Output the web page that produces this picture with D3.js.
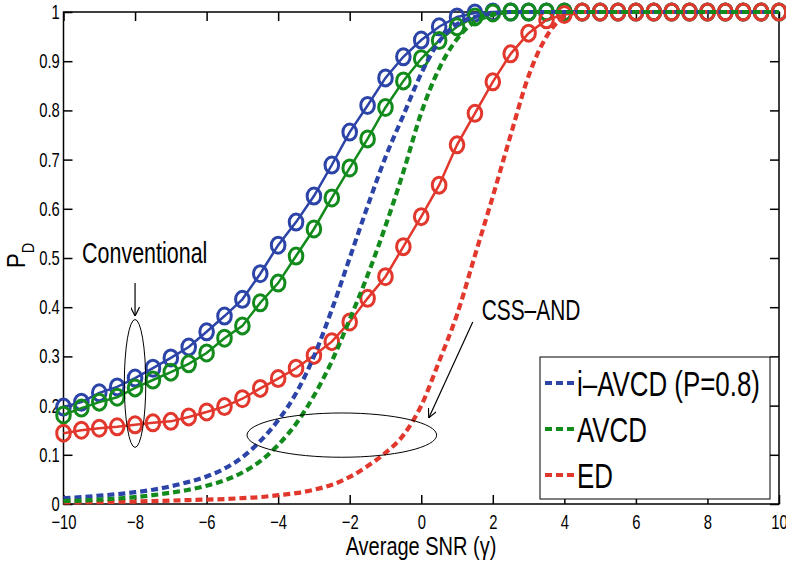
<!DOCTYPE html>
<html lang="en">
<head>
<meta charset="UTF-8">
<title>PD vs SNR</title>
<script src="https://cdn.jsdelivr.net/npm/d3@7/dist/d3.min.js"></script>
<style>
	body { margin: 0; background: #fff; }
	svg text { font-family: "Liberation Sans", Arial, sans-serif; fill: #000; }
	.axis path, .axis line { stroke: #000; stroke-width: 1.5; }
</style>
</head>
<body>
<script>
// SNR points (dB), one every 0.5 dB
var snr = [-10, -9.5, -9, -8.5, -8, -7.5, -7, -6.5, -6, -5.5, -5, -4.5, -4, -3.5, -3, -2.5, -2, -1.5, -1, -0.5,
	0, 0.5, 1, 1.5, 2, 2.5, 3, 3.5, 4, 4.5, 5, 5.5, 6, 6.5, 7, 7.5, 8, 8.5, 9, 9.5, 10];

// conventional (solid + circles)
var iavcdConv = [0.197, 0.207, 0.226, 0.238, 0.256, 0.276, 0.297, 0.319, 0.350, 0.382, 0.416, 0.468, 0.526, 0.573, 0.626, 0.689, 0.756, 0.810, 0.866, 0.909,
	0.943, 0.970, 0.990, 0.998, 1, 1, 1, 1, 1, 1, 1, 1, 1, 1, 1, 1, 1, 1, 1, 1, 1];
var avcdConv = [0.181, 0.195, 0.207, 0.217, 0.236, 0.252, 0.268, 0.285, 0.307, 0.337, 0.362, 0.409, 0.449, 0.504, 0.559, 0.622, 0.683, 0.742, 0.806, 0.860,
	0.905, 0.942, 0.970, 0.990, 0.998, 1, 1, 1, 1, 1, 1, 1, 1, 1, 1, 1, 1, 1, 1, 1, 1];
var edConv = [0.144, 0.150, 0.154, 0.157, 0.161, 0.165, 0.168, 0.177, 0.187, 0.198, 0.214, 0.235, 0.255, 0.276, 0.302, 0.330, 0.370, 0.418, 0.462, 0.523,
	0.584, 0.648, 0.730, 0.794, 0.858, 0.915, 0.957, 0.984, 0.995, 1, 1, 1, 1, 1, 1, 1, 1, 1, 1, 1, 1];

// CSS-AND (dashed)
var iavcdAnd = [0.012, 0.014, 0.017, 0.020, 0.024, 0.029, 0.036, 0.045, 0.056, 0.072, 0.095, 0.128, 0.170, 0.225, 0.300, 0.395, 0.500, 0.605, 0.705, 0.790,
	0.875, 0.940, 0.975, 0.990, 0.997, 1, 1, 1, 1, 1, 1, 1, 1, 1, 1, 1, 1, 1, 1, 1, 1];
var avcdAnd = [0.006, 0.007, 0.009, 0.011, 0.014, 0.018, 0.023, 0.029, 0.037, 0.048, 0.064, 0.087, 0.120, 0.163, 0.220, 0.290, 0.375, 0.465, 0.565, 0.675,
	0.795, 0.885, 0.945, 0.980, 0.994, 1, 1, 1, 1, 1, 1, 1, 1, 1, 1, 1, 1, 1, 1, 1, 1];
var edAnd = [0.003, 0.0035, 0.004, 0.0045, 0.005, 0.006, 0.007, 0.008, 0.009, 0.010, 0.012, 0.014, 0.018, 0.022, 0.029, 0.039, 0.055, 0.077, 0.104, 0.140,
	0.200, 0.290, 0.385, 0.505, 0.625, 0.750, 0.870, 0.950, 0.990, 1, 1, 1, 1, 1, 1, 1, 1, 1, 1, 1, 1];

var legendLabels = ["i\u2013AVCD (P=0.8)", "AVCD", "ED"];
var xTicks = [-10, -8, -6, -4, -2, 0, 2, 4, 6, 8, 10];
var yTicks = [0, 0.1, 0.2, 0.3, 0.4, 0.5, 0.6, 0.7, 0.8, 0.9, 1];

var blue = "#2c44a8", green = "#138a1c", red = "#e2372c";

var width = 786, height = 564;
var svg = d3.select("body").append("svg")
	.attr("width", width)
	.attr("height", height);

var x = d3.scaleLinear().domain([-10, 10]).range([63.5, 779]);
var y = d3.scaleLinear().domain([0, 1]).range([504, 12]);

// matlab-ish condensed text: squeeze horizontally
function narrow(sel, px, py, sx) {
	return sel.attr("transform", "translate(" + px + "," + py + ") scale(" + sx + ",1)");
}

var fmtY = function(d) { return d === 0 ? "0" : d === 1 ? "1" : d3.format(".1f")(d); };
var fmtX = function(d) { return d < 0 ? "\u2212" + Math.abs(d) : d; };

// box + inward ticks on all four sides
var gx = svg.append("g").attr("class", "axis")
	.attr("transform", "translate(0," + y(0) + ")")
	.call(d3.axisBottom(x).tickValues(xTicks).tickSizeInner(-9).tickSizeOuter(0).tickPadding(11).tickFormat(fmtX));
gx.selectAll("text").style("font-size", "20px").attr("transform", "scale(0.74,1)");
svg.append("g").attr("class", "axis")
	.attr("transform", "translate(0," + y(1) + ")")
	.call(d3.axisTop(x).tickValues(xTicks).tickSizeInner(-9).tickSizeOuter(0).tickFormat(""));
var gy = svg.append("g").attr("class", "axis")
	.attr("transform", "translate(" + x(-10) + ",0)")
	.call(d3.axisLeft(y).tickValues(yTicks).tickSizeInner(-9).tickSizeOuter(0).tickPadding(5).tickFormat(fmtY));
gy.selectAll("text").style("font-size", "20px").attr("transform", "scale(0.74,1)");
svg.append("g").attr("class", "axis")
	.attr("transform", "translate(" + x(10) + ",0)")
	.call(d3.axisRight(y).tickValues(yTicks).tickSizeInner(-9).tickSizeOuter(0).tickFormat(""));
svg.selectAll(".axis .domain").remove();
svg.append("rect")
	.attr("x", x(-10)).attr("y", y(1))
	.attr("width", x(10) - x(-10)).attr("height", y(0) - y(1))
	.attr("fill", "none").attr("stroke", "#000").attr("stroke-width", 1.5);

// axis titles
narrow(svg.append("text"), 421, 555, 0.8)
	.attr("text-anchor", "middle")
	.style("font-size", "25px")
	.text("Average SNR (\u03b3)");

var yl = svg.append("text")
	.attr("transform", "translate(25,268) rotate(-90) scale(0.85,1)")
	.style("font-size", "26px");
yl.append("tspan").text("P");
yl.append("tspan").attr("dy", 9).style("font-size", "17px").text("D");

var line = d3.line()
	.x(function(d, i) { return x(snr[i]); })
	.y(function(d) { return y(d); });
var dashLine = d3.line()
	.x(function(d, i) { return x(snr[i]); })
	.y(function(d) { return y(d); })
	.curve(d3.curveMonotoneX);

function solid(vals, color) {
	svg.append("path").datum(vals)
		.attr("d", line)
		.attr("fill", "none").attr("stroke", color).attr("stroke-width", 2.5);
	svg.append("g").selectAll("ellipse")
		.data(vals).enter().append("ellipse")
		.attr("cx", function(d, i) { return x(snr[i]); })
		.attr("cy", function(d) { return y(d); })
		.attr("rx", 6.8).attr("ry", 8)
		.attr("fill", "none").attr("stroke", color).attr("stroke-width", 3);
}
function dashed(vals, color) {
	svg.append("path").datum(vals)
		.attr("d", dashLine)
		.attr("fill", "none").attr("stroke", color).attr("stroke-width", 4.2)
		.attr("stroke-dasharray", "7,4");
}

solid(iavcdConv, blue);
solid(avcdConv, green);
solid(edConv, red);
dashed(iavcdAnd, blue);
dashed(edAnd, red);
dashed(avcdAnd, green);

// annotations
svg.append("ellipse")
	.attr("cx", x(-8)).attr("cy", y(0.245))
	.attr("rx", x(-7.7) - x(-8)).attr("ry", y(0.115) - y(0.245))
	.attr("fill", "none").attr("stroke", "#000").attr("stroke-width", 1);
svg.append("ellipse")
	.attr("cx", x(-2.22)).attr("cy", y(0.14))
	.attr("rx", x(0.43) - x(-2.22)).attr("ry", y(0.095) - y(0.14))
	.attr("fill", "none").attr("stroke", "#000").attr("stroke-width", 1);

svg.append("defs").append("marker")
	.attr("id", "ah").attr("viewBox", "0 0 10 10")
	.attr("refX", 10).attr("refY", 5)
	.attr("markerWidth", 9).attr("markerHeight", 9)
	.attr("markerUnits", "userSpaceOnUse")
	.attr("orient", "auto")
	.append("path").attr("d", "M0,0 L10,5 L0,10").attr("fill", "none").attr("stroke", "#000").attr("stroke-width", 1.3);

svg.append("line")
	.attr("x1", x(-8)).attr("y1", y(0.449))
	.attr("x2", x(-8)).attr("y2", y(0.382))
	.attr("stroke", "#000").attr("stroke-width", 1.2).attr("marker-end", "url(#ah)");
svg.append("line")
	.attr("x1", x(1.44)).attr("y1", y(0.37))
	.attr("x2", x(0.21)).attr("y2", y(0.175))
	.attr("stroke", "#000").attr("stroke-width", 1.2).attr("marker-end", "url(#ah)");

narrow(svg.append("text"), x(-9.48), y(0.49), 0.74)
	.style("font-size", "29px")
	.text("Conventional");
narrow(svg.append("text"), x(1.69), y(0.374), 0.72)
	.style("font-size", "29px")
	.text("CSS\u2013AND");

// legend
var lg = svg.append("g");
lg.append("rect")
	.attr("x", 540).attr("y", 357).attr("width", 230).attr("height", 142)
	.attr("fill", "#fff").attr("stroke", "#000").attr("stroke-width", 1);
var legColors = [blue, green, red];
var rows = lg.selectAll("g.row").data(legendLabels).enter().append("g")
	.attr("class", "row")
	.attr("transform", function(d, i) { return "translate(0," + (383 + i * 46) + ")"; });
rows.append("line")
	.attr("x1", 545).attr("x2", 574).attr("y1", 0).attr("y2", 0)
	.attr("stroke", function(d, i) { return legColors[i]; })
	.attr("stroke-width", 4).attr("stroke-dasharray", "7,4");
rows.each(function(d) {
	narrow(d3.select(this).append("text"), 577, 13, 0.74)
		.style("font-size", "35px")
		.text(d);
});
</script>
</body>
</html>
